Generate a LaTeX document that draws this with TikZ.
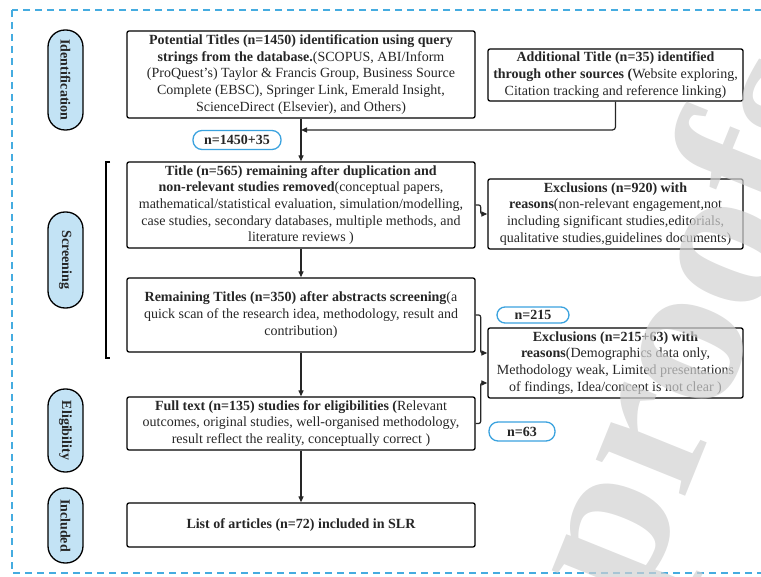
\documentclass[tikz,border=0pt]{standalone}
\usepackage{fontspec}
\setmainfont{Liberation Serif}
\usetikzlibrary{arrows.meta}
\definecolor{frameblue}{HTML}{45ACE0}
\definecolor{pillfill}{HTML}{C3E3F5}
\definecolor{tagblue}{HTML}{3AA2DE}
\definecolor{inkgrey}{HTML}{262626}
\tikzset{
  x=1pt, y=1pt,
  boxtext/.style={font=\fontsize{14}{16.7}\selectfont, text=inkgrey, align=center},
  flowbox/.style={boxtext, draw=black, line width=1.3pt, rounded corners=2pt,
    inner sep=0pt, minimum width=348pt},
  sidebox/.style={boxtext, draw=black, line width=1.3pt, rounded corners=2pt,
    inner sep=0pt, minimum width=255pt},
  stagepill/.style={draw=black, line width=1.3pt, fill=pillfill, rounded corners=17pt,
    minimum width=35pt, inner sep=0pt, text=inkgrey,
    font=\fontsize{14}{16}\selectfont\bfseries},
  counttag/.style={draw=tagblue, line width=1.3pt, rounded corners=9pt,
    inner sep=0pt, text=inkgrey, font=\fontsize{14}{16}\selectfont\bfseries},
  conn/.style={draw=inkgrey, line width=1.2pt, -{Triangle[length=6pt,width=5pt]}},
}
\begin{document}
\begin{tikzpicture}
\useasboundingbox (0,0) rectangle (761,-577);
\clip (0,0) rectangle (761,-577);

% dashed outer frame, running off the right edge
\draw[frameblue, line width=1.6pt, dash pattern=on 7pt off 5pt]
  (12,-10) rectangle (790,-573);

% stage labels
\node[stagepill, minimum height=100pt] (sId) at (65.5,-80)
  {\rotatebox{-90}{Identification}};
\node[stagepill, minimum height=96pt] (sSc) at (65.5,-260)
  {\rotatebox{-90}{Screening}};
\node[stagepill, minimum height=83pt] (sEl) at (65.5,-430.5)
  {\rotatebox{-90}{Eligibility}};
\node[stagepill, minimum height=75pt] (sIn) at (65.5,-525.5)
  {\rotatebox{-90}{Included}};

% main flow
\node[flowbox, minimum height=87pt] (b1) at (301,-74.5)
  {\textbf{Potential Titles (n=1450) identification using query}\\
   \textbf{strings from the database.}(SCOPUS, ABI/Inform\\
   (ProQuest’s) Taylor \& Francis Group, Business Source\\
   Complete (EBSC), Springer Link, Emerald Insight,\\
   ScienceDirect (Elsevier), and Others)};
\node[flowbox, minimum height=86pt] (b2) at (301,-205)
  {\textbf{Title (n=565) remaining after duplication and}\\
   \textbf{non-relevant studies removed}(conceptual papers,\\
   mathematical/statistical evaluation, simulation/modelling,\\
   case studies, secondary databases, multiple methods, and\\
   literature reviews )};
\node[flowbox, minimum height=74pt] (b3) at (301,-315)
  {\textbf{Remaining Titles (n=350) after abstracts screening}(a\\
   quick scan of the research idea, methodology, result and\\
   contribution)};
\node[flowbox, minimum height=53pt] (b4) at (301,-423.5)
  {\textbf{Full text (n=135) studies for eligibilities (}Relevant\\
   outcomes, original studies, well-organised methodology,\\
   result reflect the reality, conceptually correct )};
\node[flowbox, minimum height=44pt] (b5) at (301,-525)
  {\textbf{List of articles (n=72) included in SLR}};

% side boxes
\node[sidebox, minimum height=52pt] (add) at (615.5,-75)
  {\textbf{Additional Title (n=35) identified}\\
   \textbf{through other sources (}Website exploring,\\
   Citation tracking and reference linking)};
\node[sidebox, minimum height=70pt] (ex1) at (615.5,-214)
  {\textbf{Exclusions (n=920) with}\\
   \textbf{reasons}(non-relevant engagement,not\\
   including significant studies,editorials,\\
   qualitative studies,guidelines documents)};
\node[sidebox, minimum height=70pt] (ex2) at (615.5,-363)
  {\textbf{Exclusions (n=215+63) with}\\
   \textbf{reasons}(Demographics data only,\\
   Methodology weak, Limited presentations\\
   of findings, Idea/concept is not clear )};

% count tags
\node[counttag, minimum width=88pt, minimum height=19pt] (t1) at (237,-140) {n=1450+35};
\node[counttag, minimum width=72pt, minimum height=16pt, rounded corners=8pt] (t2) at (533,-315) {n=215};
\node[counttag, minimum width=66pt, minimum height=19pt] (t3) at (522,-431.5) {n=63};

% bracket spanning the screening stage
\draw[black, line width=1.2pt] (110,-162) -- (106,-162) -- (106,-358) -- (110,-358);

% connectors
\coordinate (j1) at (301,-130);
\draw[conn, rounded corners=3pt] (add.south) |- (j1);
\draw[conn] (b1) -- (b2);
\draw[conn] (b2) -- (b3);
\draw[conn] (b3) -- (b4);
\draw[conn] (b4) -- (b5);
\draw[conn, rounded corners=2pt] (b2.east) -- ++(5,0) |- (ex1.west);
\draw[conn, rounded corners=2pt] (b3.east) -- ++(5,0) |- ([yshift=10pt]ex2.west);
\draw[conn, rounded corners=2pt] (b4.east) -- ++(5,0) |- ([yshift=-20pt]ex2.west);

% watermark
\node[rotate=68, anchor=base west, text=black!18, opacity=0.7,
  font=\fontsize{210}{210}\selectfont\bfseries, inner sep=0pt] (wm) at (640,-610) {proofs};
\end{tikzpicture}
\end{document}
